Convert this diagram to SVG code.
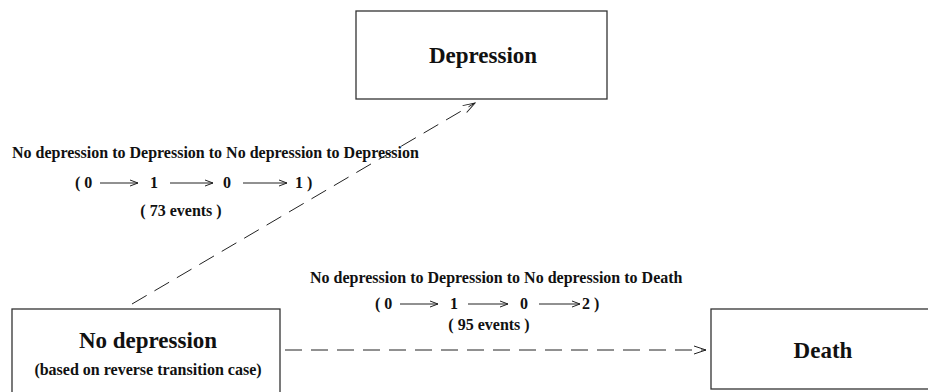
<svg xmlns="http://www.w3.org/2000/svg" width="928" height="392" viewBox="0 0 928 392">
<style>
.box{fill:#fff;stroke:#333;stroke-width:1.3}
.t{font-family:"Liberation Serif",serif;font-weight:bold;fill:#111}
.big{font-size:23px}
.sm{font-size:16px}
.dash{fill:none;stroke:#222;stroke-width:1;stroke-dasharray:17,9}
.ar{fill:none;stroke:#222;stroke-width:1}
</style>
<defs>
<marker id="open" markerWidth="14" markerHeight="10" refX="13" refY="5" orient="auto" markerUnits="userSpaceOnUse">
<path d="M1,1 L13,5 L1,9" fill="none" stroke="#222" stroke-width="1"/>
</marker>
<marker id="sm" markerWidth="10" markerHeight="8" refX="9" refY="4" orient="auto" markerUnits="userSpaceOnUse">
<path d="M1,1 L9,4 L1,7" fill="none" stroke="#222" stroke-width="1"/>
</marker>
</defs>
<g id="depression">
<rect class="box" x="356" y="11" width="251" height="88"/>
<text class="t big" x="483" y="63" text-anchor="middle">Depression</text>
</g>
<g id="no-depression">
<rect class="box" x="12" y="309" width="268" height="90"/>
<text class="t big" x="148" y="348" text-anchor="middle">No depression</text>
<text class="t sm" x="148" y="375" text-anchor="middle">(based on reverse transition case)</text>
</g>
<g id="death">
<rect class="box" x="711" y="309" width="230" height="80"/>
<text class="t big" x="823" y="358" text-anchor="middle">Death</text>
</g>
<g id="connectors">
<line class="dash" x1="132" y1="304" x2="475" y2="103" marker-end="url(#open)"/>
<line class="dash" x1="285" y1="350" x2="706" y2="350" marker-end="url(#open)"/>
</g>
<g id="label-1">
<text class="t sm" x="12" y="158">No depression to Depression to No depression to Depression</text>
<text class="t sm" x="75" y="188">( 0</text>
<line class="ar" x1="100" y1="183" x2="138" y2="183" marker-end="url(#sm)"/>
<text class="t sm" x="150" y="188">1</text>
<line class="ar" x1="170" y1="183" x2="213" y2="183" marker-end="url(#sm)"/>
<text class="t sm" x="223" y="188">0</text>
<line class="ar" x1="243" y1="183" x2="287" y2="183" marker-end="url(#sm)"/>
<text class="t sm" x="295" y="188">1 )</text>
<text class="t sm" x="181" y="216" text-anchor="middle">( 73 events )</text>
</g>
<g id="label-2">
<text class="t sm" x="310" y="283">No depression to Depression to No depression to Death</text>
<text class="t sm" x="375" y="309">( 0</text>
<line class="ar" x1="400" y1="304" x2="438" y2="304" marker-end="url(#sm)"/>
<text class="t sm" x="450" y="309">1</text>
<line class="ar" x1="468" y1="304" x2="508" y2="304" marker-end="url(#sm)"/>
<text class="t sm" x="520" y="309">0</text>
<line class="ar" x1="539" y1="304" x2="580" y2="304" marker-end="url(#sm)"/>
<text class="t sm" x="582" y="309">2 )</text>
<text class="t sm" x="489" y="330" text-anchor="middle">( 95 events )</text>
</g>
</svg>
